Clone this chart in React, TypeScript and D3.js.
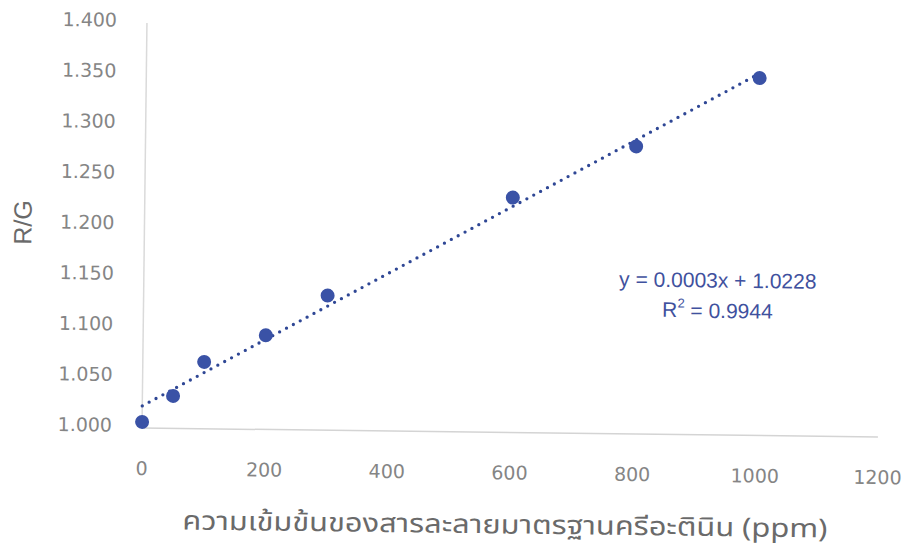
import React from "react";
import * as d3 from "d3";

const concentrations = [0, 50, 100, 200, 300, 600, 800, 1000];
const ratios = [1.006, 1.032, 1.066, 1.093, 1.133, 1.232, 1.284, 1.353];
const xTicks = [0, 200, 400, 600, 800, 1000, 1200];
const yTicks = [1.0, 1.05, 1.1, 1.15, 1.2, 1.25, 1.3, 1.35, 1.4];
const equationText = "y = 0.0003x + 1.0228";
const r2Value = "0.9944";
const xTitle = "ความเข้มข้นของสารละลายมาตรฐานครีอะตินิน (ppm)";
const yTitle = "R/G";

export default function App() {
  const W = 907;
  const H = 548;
  const x = d3.scaleLinear().domain([0, 1200]).range([142, 878]);
  const y = d3.scaleLinear().domain([1.0, 1.4]).range([428, 23]);

  const pts = concentrations.map((c, i) => ({ c, v: ratios[i] }));
  const mx = d3.mean(concentrations) as number;
  const my = d3.mean(ratios) as number;
  const sxy = d3.sum(pts, (p) => (p.c - mx) * (p.v - my));
  const sxx = d3.sum(pts, (p) => (p.c - mx) * (p.c - mx));
  const slope = sxy / sxx;
  const intercept = my - slope * mx;
  const x0 = d3.min(concentrations) as number;
  const x1 = d3.max(concentrations) as number;
  const trend = d3
    .line<number>()
    .x((c) => x(c))
    .y((c) => y(intercept + slope * c))([x0, x1]);

  const fmt = d3.format(".3f");
  const tickFont = "'DejaVu Sans', Verdana, sans-serif";
  const tickColor = "#858585";

  return (
    <svg
      width={W}
      height={H}
      viewBox={`0 0 ${W} ${H}`}
      style={{ position: "absolute", left: 0, top: 0, background: "#fff" }}
    >
      <rect x={0} y={0} width={W} height={H} fill="#fff" />
      <g transform="rotate(0.7 142 428)">
        {/* axes */}
        <line x1={x(0)} x2={x(0)} y1={y(1.4)} y2={y(1.0)} stroke="#dadada" strokeWidth={1.5} />
        <line x1={x(0)} x2={x(1200)} y1={y(1.0)} y2={y(1.0)} stroke="#d4d4d4" strokeWidth={1.5} />

        {/* y tick labels */}
        {yTicks.map((t) => (
          <text
            key={"y" + t}
            x={112}
            y={y(t) - 3}
            textAnchor="end"
            dominantBaseline="central"
            fontFamily={tickFont}
            fontSize={19}
            fill={tickColor}
          >
            {fmt(t)}
          </text>
        ))}

        {/* x tick labels */}
        {xTicks.map((t) => (
          <text
            key={"x" + t}
            x={x(t)}
            y={468}
            textAnchor="middle"
            dominantBaseline="central"
            fontFamily={tickFont}
            fontSize={19}
            fill={tickColor}
          >
            {t}
          </text>
        ))}

        {/* trendline */}
        <path
          d={trend || ""}
          fill="none"
          stroke="#2f4795"
          strokeWidth={3.3}
          strokeLinecap="round"
          strokeDasharray="0 7.8"
        />

        {/* points */}
        {pts.map((p) => (
          <circle key={p.c} cx={x(p.c)} cy={y(p.v)} r={7} fill="#3a52a6" />
        ))}

        {/* equation */}
        <text
          x={716}
          y={273}
          textAnchor="middle"
          dominantBaseline="central"
          fontFamily="'Liberation Sans', Arial, sans-serif"
          fontSize={21}
          fill="#3f519e"
        >
          {equationText}
        </text>
        <text
          x={716}
          y={303}
          textAnchor="middle"
          dominantBaseline="central"
          fontFamily="'Liberation Sans', Arial, sans-serif"
          fontSize={21}
          fill="#3f519e"
        >
          R<tspan dy={-7} fontSize={13}>2</tspan>
          <tspan dy={7}>{" = " + r2Value}</tspan>
        </text>

        {/* axis titles */}
        <text
          transform="translate(20,224) rotate(-90)"
          textAnchor="middle"
          dominantBaseline="central"
          fontFamily="'Liberation Sans', Arial, sans-serif"
          fontSize={25}
          fill="#6a6a6a"
        >
          {yTitle}
        </text>
        <text
          x={506}
          y={521}
          textAnchor="middle"
          dominantBaseline="central"
          fontFamily="'Noto Sans Thai', 'Noto Sans', Loma, Garuda, sans-serif"
          fontSize={26}
          fill="#6a6a6a"
          textLength={645}
          lengthAdjust="spacingAndGlyphs"
        >
          {xTitle}
        </text>
      </g>
    </svg>
  );
}
